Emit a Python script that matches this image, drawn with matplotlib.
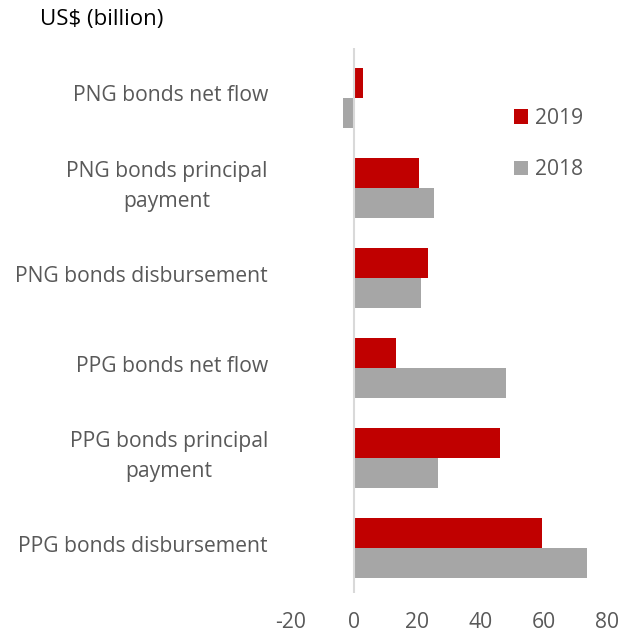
import matplotlib.pyplot as plt
import matplotlib.transforms as mtransforms
import numpy as np

categories = ['PPG bonds disbursement', 'PPG bonds principal\npayment', 'PPG bonds net flow',
              'PNG bonds disbursement', 'PNG bonds principal\npayment', 'PNG bonds net flow']
val_2019 = [59.4, 46.2, 13.3, 23.4, 20.7, 2.9]
val_2018 = [73.9, 26.5, 48.1, 21.2, 25.2, -3.5]

RED = '#C00000'
GRAY = '#A6A6A6'
TXT = '#595959'

plt.rcParams['font.family'] = ['Open Sans', 'DejaVu Sans']
plt.rcParams['axes.unicode_minus'] = False

fig = plt.figure(figsize=(6.24, 6.32), dpi=100)
ax = fig.add_axes([290.8 / 624, 39 / 632, 315.9 / 624, 545 / 632])

y = np.arange(len(categories))
h = 1 / 3
ax.barh(y + h / 2, val_2019, height=h, color=RED, label='2019')
ax.barh(y - h / 2, val_2018, height=h, color=GRAY, label='2018')

ax.axvline(0, color='#D9D9D9', lw=1.5)
ax.set_xlim(-20, 80)
ax.set_ylim(-0.5, 5.55)
ax.set_xticks([-20, 0, 20, 40, 60, 80])
ax.set_yticks(y)
ax.set_yticklabels(categories, ha='right', multialignment='center', linespacing=1.55)
ax.tick_params(axis='y', length=0, pad=16.5, labelsize=15.2, labelcolor=TXT)
ax.tick_params(axis='x', length=0, pad=13.5, labelsize=15.2, labelcolor=TXT)
for s in ax.spines.values():
    s.set_visible(False)

# nudge category labels up a little
for lab in ax.get_yticklabels():
    dy = 6 if '\n' in lab.get_text() else 3
    lab.set_transform(lab.get_transform() + mtransforms.ScaledTranslation(0, dy / 72, fig.dpi_scale_trans))

ax.legend(loc='upper left', bbox_to_anchor=(0.645, 0.925), frameon=False, fontsize=15.2,
          labelcolor=TXT, handlelength=0.7, handleheight=0.7, labelspacing=1.45,
          handletextpad=0.3)

fig.text(40 / 624, 1 - 20 / 632, 'US$ (billion)', fontsize=16, va='center', ha='left', color='black')

plt.savefig('out.png', dpi=100)
